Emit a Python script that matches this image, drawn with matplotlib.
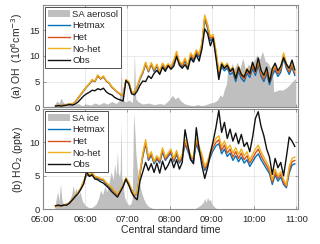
import numpy as np
import matplotlib
matplotlib.use("Agg")
import matplotlib.pyplot as plt

plt.rcParams["font.family"] = ["Liberation Sans", "DejaVu Sans"]

# model/obs time grid, minutes after 05:00
t_min = np.arange(18, 359, 4)

# (a) OH, 10^6 cm-3
oh_obs = [0.2, 0.3, 0.2, 0.3, 0.4, 0.5, 0.4, 0.6, 1.0, 1.6, 2.2, 2.6, 2.9, 3.3, 3.2, 3.6, 3.4, 3.7, 3.0, 2.6,
          2.4, 1.9, 1.6, 1.4, 1.2, 5.2, 4.6, 2.6, 2.4, 3.1, 4.3, 5.1, 5.0, 6.1, 5.6, 6.6, 7.2, 6.4, 7.8, 7.0,
          8.1, 7.4, 8.0, 9.9, 8.2, 7.6, 8.3, 7.4, 9.6, 8.8, 10.2, 9.0, 11.4, 15.3, 14.4, 12.0, 13.5, 9.6, 5.4, 8.4,
          7.6, 8.2, 7.0, 7.6, 5.6, 7.8, 6.4, 5.9, 7.4, 6.6, 8.8, 7.0, 9.6, 7.2, 6.2, 7.8, 4.9, 7.5, 8.6, 7.1,
          8.0, 9.7, 8.4, 7.6, 9.2, 7.3]
oh_nohet = [0.2, 0.3, 0.3, 0.4, 0.5, 0.6, 0.6, 1.0, 1.8, 2.6, 3.3, 4.0, 4.6, 5.4, 5.1, 6.3, 5.6, 6.1, 5.2, 4.8,
            4.0, 3.5, 3.0, 2.6, 2.3, 5.4, 5.0, 3.0, 2.9, 4.1, 5.8, 7.0, 8.8, 7.2, 8.7, 7.4, 8.4, 7.0, 8.6, 7.8,
            8.5, 8.0, 9.2, 10.9, 9.0, 8.4, 9.6, 8.2, 10.6, 9.8, 11.2, 10.4, 12.6, 18.0, 16.2, 13.8, 14.2, 11.0, 7.0, 8.8,
            8.0, 8.6, 7.4, 7.8, 6.0, 8.0, 6.6, 6.0, 7.6, 6.8, 8.6, 7.2, 9.2, 7.0, 6.0, 7.6, 5.4, 7.2, 8.2, 7.0,
            7.8, 10.6, 8.6, 7.4, 8.8, 7.0]
oh_het = [0.2, 0.3, 0.3, 0.4, 0.5, 0.6, 0.6, 1.0, 1.8, 2.5, 3.2, 4.0, 4.5, 5.3, 5.0, 6.2, 5.5, 6.0, 5.1, 4.7,
          3.9, 3.4, 2.9, 2.5, 2.2, 5.3, 4.9, 2.9, 2.8, 4.0, 5.6, 6.8, 8.6, 7.0, 8.5, 7.2, 8.2, 6.8, 8.4, 7.6,
          8.3, 7.8, 8.9, 10.6, 8.7, 8.1, 9.3, 7.9, 10.3, 9.5, 10.9, 10.1, 12.2, 17.6, 15.8, 13.4, 13.8, 10.6, 6.6, 8.3,
          7.5, 8.1, 6.9, 7.3, 5.5, 7.5, 6.1, 5.5, 7.1, 6.3, 8.1, 6.7, 8.7, 6.5, 5.5, 7.1, 4.9, 6.7, 7.7, 6.5,
          7.3, 10.1, 8.1, 6.9, 8.3, 6.6]
oh_hetmax = [0.2, 0.3, 0.3, 0.4, 0.5, 0.6, 0.6, 1.0, 1.7, 2.5, 3.2, 3.9, 4.5, 5.2, 5.0, 6.1, 5.5, 5.9, 5.1, 4.7,
             3.9, 3.4, 2.9, 2.5, 2.2, 5.2, 4.8, 2.9, 2.8, 3.9, 5.5, 6.7, 8.4, 6.9, 8.3, 7.0, 8.0, 6.6, 8.2, 7.4,
             8.1, 7.6, 8.7, 10.4, 8.5, 7.9, 9.0, 7.7, 10.0, 9.2, 10.6, 9.8, 11.9, 17.2, 15.4, 13.0, 13.4, 10.2, 6.2, 7.9,
             7.1, 7.6, 6.4, 6.8, 5.0, 7.0, 5.6, 5.0, 6.6, 5.8, 7.6, 6.2, 8.2, 6.0, 5.0, 6.6, 4.4, 6.2, 7.2, 6.0,
             6.8, 9.6, 7.6, 6.4, 7.8, 6.2]

# SA aerosol (shaded), own time points
sa_aer_t = [17, 20, 23, 26, 29, 33, 38, 44, 50, 56, 62, 68, 74, 80, 86, 92, 98, 104, 108, 110, 111, 113, 118, 122,
            127, 129, 130, 132, 136, 142, 150, 158, 166, 172, 178, 184, 188, 192, 196, 202, 208, 214, 220, 226, 232,
            238, 244, 248, 252, 255, 258, 261, 263, 266, 269, 272, 276, 280, 284, 288, 292, 296, 300, 304, 308, 312,
            316, 320, 324, 326, 328, 332, 336, 340, 344, 348, 352, 356, 359]
sa_aer = [0.6, 1.2, 0.8, 1.8, 0.9, 0.6, 0.8, 0.4, 0.7, 0.3, 0.6, 0.4, 0.8, 0.5, 0.9, 0.6, 1.1, 0.7, 1.2, 3.0, 8.7, 1.5,
          1.0, 1.4, 0.9, 4.0, 10.6, 1.6, 1.0, 0.6, 0.8, 0.5, 0.7, 0.5, 1.2, 2.3, 1.6, 2.0, 1.2, 0.6, 0.4, 0.3, 0.5,
          0.3, 0.5, 0.8, 1.0, 1.4, 2.4, 2.0, 3.5, 4.6, 8.0, 6.5, 8.6, 7.4, 8.8, 7.5, 9.6, 7.2, 8.4, 7.8, 9.0, 10.2,
          9.4, 10.9, 9.0, 8.6, 7.6, 8.2, 3.0, 3.2, 3.4, 3.3, 3.6, 4.0, 4.6, 5.2, 5.6]

# (b) HO2, pptv
ho2_obs = [0.5, 0.6, 0.5, 0.6, 0.6, 0.9, 1.4, 1.9, 2.3, 3.0, 3.8, 5.6, 4.9, 5.1, 4.5, 4.4, 4.1, 3.9, 3.5, 3.1,
           2.6, 2.2, 1.8, 2.6, 3.4, 4.5, 3.6, 2.5, 1.8, 1.4, 4.2, 5.6, 7.0, 5.8, 6.8, 5.5, 6.9, 5.4, 7.2, 5.9,
           6.6, 7.6, 6.2, 7.4, 6.0, 7.0, 11.9, 9.6, 7.4, 6.8, 12.2, 9.0, 6.5, 4.6, 6.2, 8.4, 10.2, 12.3, 14.8, 11.5,
           13.0, 10.6, 12.0, 10.2, 11.4, 9.8, 11.2, 9.4, 10.0, 8.6, 10.8, 13.6, 14.6, 12.4, 11.0, 9.0, 7.8, 5.2, 7.6, 6.2,
           7.0, 5.0, 7.8, 10.8, 10.2, 9.4]
ho2_nohet = [0.4, 0.5, 0.5, 0.6, 0.7, 1.0, 1.5, 2.0, 2.5, 3.2, 4.2, 5.3, 5.2, 5.5, 4.9, 4.8, 4.6, 4.5, 4.0, 3.6,
             3.2, 2.7, 2.3, 2.9, 3.6, 4.7, 4.0, 3.0, 2.2, 2.4, 5.6, 8.4, 10.4, 7.8, 8.6, 7.2, 8.0, 7.4, 9.2, 7.8,
             8.4, 9.0, 7.6, 8.8, 7.4, 8.2, 10.4, 9.4, 8.0, 7.8, 10.6, 9.4, 8.2, 6.4, 7.2, 8.6, 9.8, 10.6, 11.0, 9.4,
             10.2, 9.0, 9.6, 8.4, 9.2, 8.2, 9.0, 8.0, 8.6, 7.4, 8.2, 9.0, 9.6, 8.6, 7.8, 7.0, 6.2, 4.4, 6.0, 5.0,
             5.6, 4.4, 3.6, 6.4, 7.6, 7.8]
ho2_het = [0.4, 0.5, 0.5, 0.6, 0.7, 1.0, 1.5, 2.0, 2.5, 3.1, 4.1, 5.2, 5.1, 5.4, 4.8, 4.7, 4.5, 4.4, 3.9, 3.5,
           3.1, 2.6, 2.2, 2.8, 3.5, 4.6, 3.9, 2.9, 2.1, 2.3, 5.4, 8.1, 10.0, 7.5, 8.3, 7.0, 7.7, 7.1, 8.9, 7.5,
           8.1, 8.7, 7.3, 8.5, 7.1, 7.9, 10.0, 9.0, 7.7, 7.5, 10.2, 9.0, 7.8, 6.1, 6.8, 8.2, 9.3, 10.0, 10.4, 8.8,
           9.6, 8.4, 9.0, 7.8, 8.6, 7.6, 8.4, 7.4, 8.0, 6.9, 7.6, 8.4, 9.0, 8.0, 7.2, 6.5, 5.7, 4.0, 5.5, 4.6,
           5.2, 4.0, 3.4, 5.8, 7.1, 7.3]
ho2_hetmax = [0.4, 0.5, 0.5, 0.6, 0.7, 1.0, 1.4, 1.9, 2.4, 3.1, 4.0, 5.1, 5.0, 5.3, 4.7, 4.6, 4.4, 4.3, 3.8, 3.4,
              3.0, 2.6, 2.2, 2.8, 3.4, 4.5, 3.8, 2.9, 2.1, 2.3, 5.3, 7.9, 9.8, 7.3, 8.1, 6.8, 7.5, 6.9, 8.6, 7.3,
              7.9, 8.4, 7.1, 8.2, 6.9, 7.6, 9.7, 8.7, 7.4, 7.2, 9.8, 8.6, 7.5, 5.8, 6.5, 7.8, 8.8, 9.5, 9.8, 8.3,
              9.0, 7.9, 8.4, 7.3, 8.0, 7.1, 7.8, 6.9, 7.4, 6.4, 7.1, 7.8, 8.3, 7.4, 6.7, 6.0, 5.3, 3.7, 5.1, 4.2,
              4.8, 3.7, 3.2, 5.4, 6.6, 6.8]

# SA ice (shaded)
sa_ice_t = [17, 19, 21, 23, 25, 27, 29, 32, 35, 38, 41, 43, 45, 47, 50, 53, 56, 60, 64, 68, 72, 76, 79, 82, 85, 88,
            91, 94, 97, 100, 102, 104, 106, 107, 109, 110, 111, 112, 114, 116, 119, 122, 125, 127, 128, 129, 131,
            132, 134, 136, 138, 140, 143, 146, 150, 154, 158, 215, 220, 224, 228, 230, 232, 234, 236, 238, 240,
            244, 248, 359]
sa_ice = [0.4, 1.5, 2.6, 1.2, 3.8, 1.4, 0.8, 1.0, 0.6, 1.4, 2.2, 3.6, 2.4, 3.2, 2.0, 2.6, 1.2, 0.6, 0.3, 0.2, 0.4,
          0.8, 1.6, 2.8, 2.2, 3.4, 2.6, 4.0, 5.6, 4.4, 6.8, 5.0, 8.6, 5.5, 4.8, 6.0, 13.0, 5.0, 3.5, 1.8, 1.0, 0.6,
          0.8, 1.6, 8.0, 14.5, 11.0, 8.6, 6.2, 4.8, 3.4, 2.6, 1.6, 0.9, 0.4, 0.2, 0.0, 0.0, 0.3, 0.6, 1.0, 1.6,
          1.0, 1.8, 1.2, 1.5, 0.8, 0.3, 0.0, 0.0]

hour_ticks = [5, 6, 7, 8, 9, 10, 11]
hour_labels = ["05:00", "06:00", "07:00", "08:00", "09:00", "10:00", "11:00"]

c_hetmax = "#0072BD"
c_het = "#D95319"
c_nohet = "#EDB120"
c_obs = "#111111"
c_sa = "#bfbfbf"
ax_col = "#8a8a8a"
txt_col = "#262626"

fig = plt.figure(figsize=(3.2, 2.44), dpi=100)
ax1 = fig.add_axes([0.134, 0.561, 0.797, 0.419])
ax2 = fig.add_axes([0.134, 0.143, 0.797, 0.410])

panels = [
    (ax1, sa_aer_t, sa_aer, "SA aerosol", oh_hetmax, oh_het, oh_nohet, oh_obs, (0, 20), [0, 5, 10, 15],
     "(a) OH  (10$^6$cm$^{-3}$)"),
    (ax2, sa_ice_t, sa_ice, "SA ice", ho2_hetmax, ho2_het, ho2_nohet, ho2_obs, (0, 15), [0, 5, 10],
     "(b) HO$_2$ (pptv)"),
]

th = 5 + t_min / 60.0
for ax, sa_t, sa, sa_lab, hm, he, nh, ob, ylim, yt, ylab in panels:
    ax.fill_between(5 + np.array(sa_t) / 60.0, 0, sa, color=c_sa, lw=0, label=sa_lab)
    ax.plot(th, hm, color=c_hetmax, lw=1.0, label="Hetmax")
    ax.plot(th, he, color=c_het, lw=1.0, label="Het")
    ax.plot(th, nh, color=c_nohet, lw=1.0, label="No-het")
    ax.plot(th, ob, color=c_obs, lw=1.0, label="Obs")
    ax.set_xlim(5, 11.04)
    ax.set_ylim(*ylim)
    ax.set_yticks(yt)
    ax.set_xticks(hour_ticks)
    ax.grid(True, color="#e2e2e2", lw=0.5)
    ax.set_axisbelow(True)
    for s in ax.spines.values():
        s.set_color(ax_col)
        s.set_linewidth(0.8)
    ax.tick_params(direction="in", top=True, right=True, length=2.5, width=0.6,
                   colors=ax_col, labelcolor=txt_col, labelsize=6.8, pad=2)
    ax.tick_params(axis="x", pad=4)
    ax.set_ylabel(ylab, fontsize=7.5, color=txt_col, labelpad=3)
    leg = ax.legend(loc="upper left", fontsize=6.8, frameon=True, fancybox=False, framealpha=1,
                    edgecolor="#333333", borderpad=0.3, labelspacing=0.28, handlelength=2.4,
                    handletextpad=0.2, borderaxespad=0.2)
    leg.get_frame().set_linewidth(0.6)
    for txt in leg.get_texts():
        txt.set_color(txt_col)

ax1.set_xticklabels([])
ax2.set_xticklabels(hour_labels)
ax2.set_xlabel("Central standard time", fontsize=7.5, color=txt_col, labelpad=1)

fig.savefig("out.png", dpi=100)
